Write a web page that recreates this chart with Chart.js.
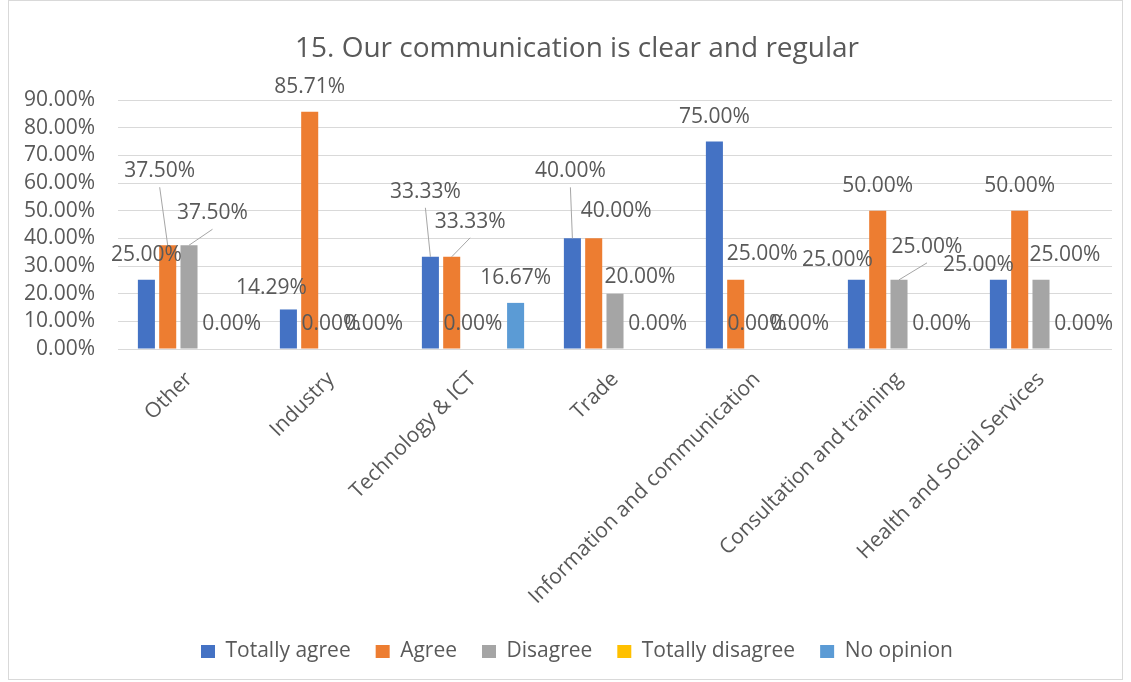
<!DOCTYPE html>
<html><head><meta charset="utf-8">
<script src="https://cdn.jsdelivr.net/npm/chart.js@4/dist/chart.umd.min.js"></script>
<style>html,body{margin:0;padding:0;background:#fff;}#wrap{width:1131px;height:682px;}</style>
</head><body><div id="wrap"><canvas id="c" width="1131" height="682"></canvas></div>
<script>
const categories = ['Other','Industry','Technology & ICT','Trade','Information and communication','Consultation and training','Health and Social Services'];
const seriesNames = ['Totally agree','Agree','Disagree','Totally disagree','No opinion'];
const totallyAgree = [25, 14.29, 33.33, 40, 75, 25, 25];
const agree = [37.5, 85.71, 33.33, 40, 25, 50, 50];
const disagree = [37.5, 0, 0, 20, 0, 25, 25];
const totallyDisagree = [null, null, null, null, null, null, null];
const noOpinion = [0, 0, 16.67, 0, 0, 0, 0];
const yTicks = [0, 10, 20, 30, 40, 50, 60, 70, 80, 90];
const titleText = '15. Our communication is clear and regular';

const colors = ['#4472C4', '#ED7D31', '#A5A5A5', '#FFC000', '#5B9BD5'];
const FONT = "'Open Sans', 'Liberation Sans', sans-serif";
const TXT = '#595959';
// label nudges relative to default "outside end" placement: [dx, dy, leaderLine]
const labelNudges = {
  '1,0': [-8, -49.5, 1], '2,0': [23.5, -7.5, 1],
  '0,1': [-17, 3.5, 0],
  '0,2': [-5, -40.5, 1], '1,2': [18.5, -10.5, 1],
  '0,3': [-2, -42.5, 1], '1,3': [22.5, -2.5, 0], '2,3': [25, 7.5, 0],
  '1,4': [26.5, -1.5, 0],
  '0,5': [-19, 4.5, 0], '2,5': [28, -8.5, 1],
  '0,6': [-20, 9.5, 0], '2,6': [24, 0, 0]
};

const seriesData = [totallyAgree, agree, disagree, totallyDisagree, noOpinion];

const bgPlugin = {
  id: 'bg',
  beforeDraw(chart) {
    const ctx = chart.ctx;
    ctx.save();
    ctx.fillStyle = '#fff';
    ctx.fillRect(0, 0, chart.width, chart.height);
    ctx.strokeStyle = '#d9d9d9';
    ctx.lineWidth = 1;
    ctx.strokeRect(8.5, 0.5, 1114, 679);
    ctx.restore();
  }
};

const labelPlugin = {
  id: 'valueLabels',
  afterDatasetsDraw(chart) {
    const ctx = chart.ctx;
    ctx.save();
    ctx.font = '21px ' + FONT;
    ctx.fillStyle = TXT;
    ctx.textAlign = 'center';
    ctx.textBaseline = 'middle';
    chart.data.datasets.forEach((ds, i) => {
      const meta = chart.getDatasetMeta(i);
      ds.data.forEach((v, j) => {
        if (v === null || v === undefined) return;
        const el = meta.data[j];
        const n = labelNudges[i + ',' + j] || [0, 0, 0];
        const lx = el.x + n[0];
        const ly = el.y - 24.5 + n[1];
        if (n[2]) {
          ctx.strokeStyle = '#a6a6a6';
          ctx.lineWidth = 1;
          ctx.beginPath();
          ctx.moveTo(lx, ly + 16);
          ctx.lineTo(el.x, el.y);
          ctx.stroke();
        }
        ctx.fillText(v.toFixed(2) + '%', lx, ly);
      });
    });
    ctx.restore();
  }
};

new Chart(document.getElementById('c'), {
  type: 'bar',
  data: {
    labels: categories,
    datasets: seriesNames.map((name, i) => ({
      label: name,
      data: seriesData[i],
      backgroundColor: colors[i],
      borderWidth: 0,
      categoryPercentage: 0.75,
      barPercentage: 0.8
    }))
  },
  options: {
    responsive: false,
    devicePixelRatio: 1,
    animation: false,
    layout: { padding: { left: 23, right: 0, top: 0, bottom: 10 } },
    plugins: {
      title: {
        display: true,
        text: titleText,
        color: TXT,
        font: { family: FONT, size: 28, weight: 'normal' },
        padding: { top: 32, bottom: 34.4 }
      },
      legend: {
        position: 'bottom',
        labels: {
          color: TXT,
          font: { family: FONT, size: 21 },
          boxWidth: 14,
          boxHeight: 13,
          padding: 25
        }
      },
      tooltip: { enabled: false }
    },
    scales: {
      x: {
        grid: { display: false, drawTicks: false },
        border: { display: false },
        ticks: {
          color: TXT,
          font: { family: FONT, size: 21 },
          minRotation: 45,
          maxRotation: 45,
          autoSkip: false,
          padding: 18
        },
        afterFit(s) { s.height = 267; }
      },
      y: {
        min: 0,
        max: 90,
        grid: { color: '#d9d9d9', lineWidth: 1, drawTicks: false },
        border: { display: false },
        ticks: {
          color: TXT,
          font: { family: FONT, size: 21 },
          padding: 23,
          autoSkip: false,
          callback: v => v.toFixed(2) + '%'
        },
        afterBuildTicks(s) { s.ticks = yTicks.map(v => ({ value: v })); },
        afterFit(s) { s.width = 95; }
      },
      yRight: {
        position: 'right',
        display: true,
        grid: { display: false, drawTicks: false },
        border: { display: false },
        ticks: { display: false },
        afterFit(s) { s.width = 19; }
      }
    }
  },
  plugins: [bgPlugin, labelPlugin]
});
</script>
</body></html>
